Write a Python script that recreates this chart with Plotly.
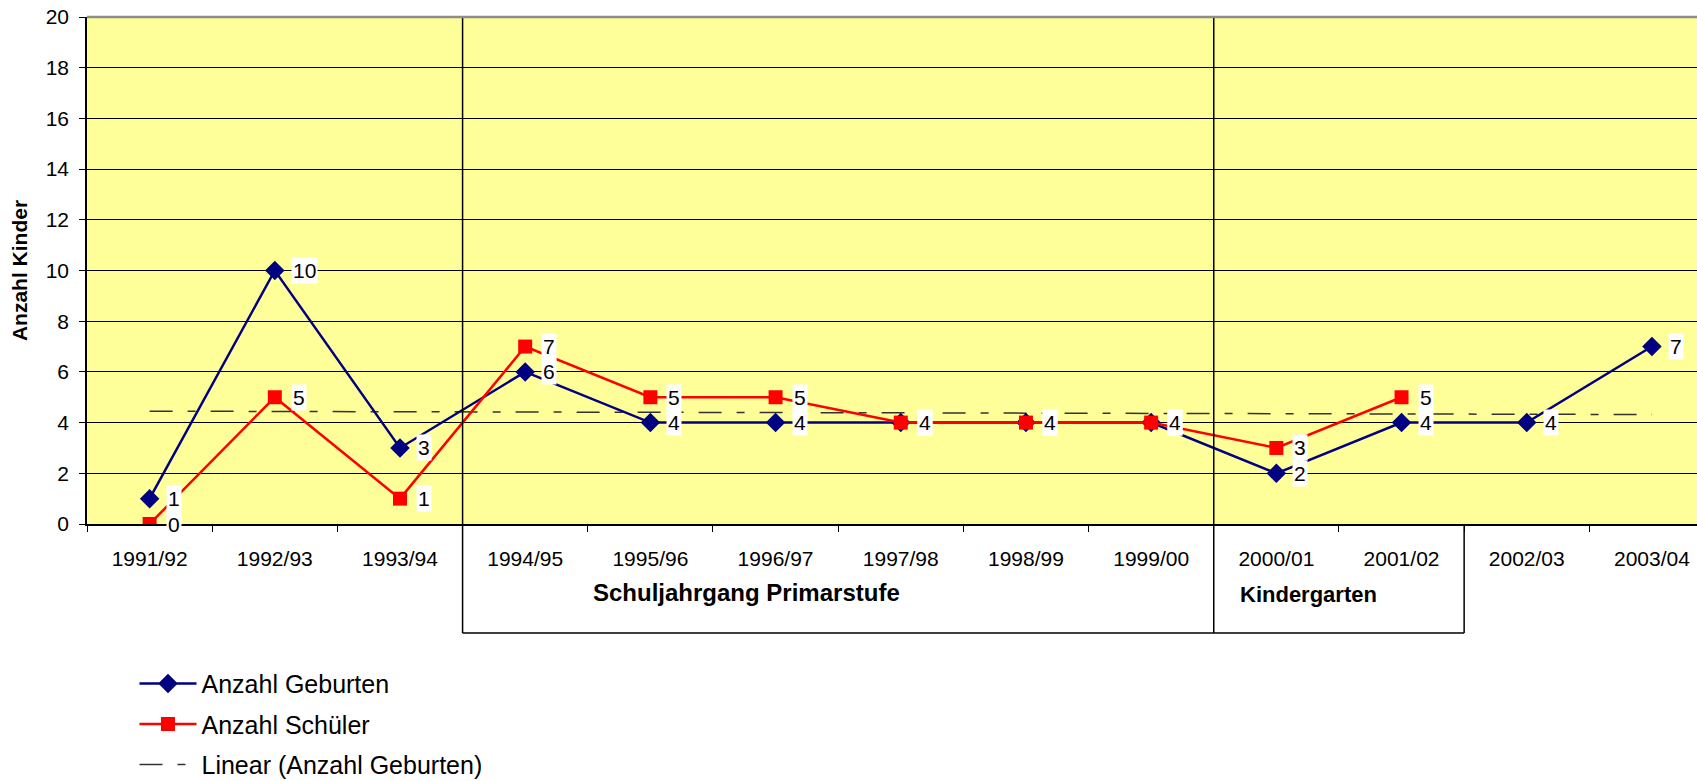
import numpy as np
import plotly.graph_objects as go

# ---- data ----
categories = ["1991/92", "1992/93", "1993/94", "1994/95", "1995/96", "1996/97", "1997/98",
              "1998/99", "1999/00", "2000/01", "2001/02", "2002/03", "2003/04"]
geburten = [1, 10, 3, 6, 4, 4, 4, 4, 4, 2, 4, 4, 7]
schueler = [0, 5, 1, 7, 5, 5, 4, 4, 4, 3, 5, None, None]
y_ticks = [0, 2, 4, 6, 8, 10, 12, 14, 16, 18, 20]
group_labels = ["Schuljahrgang Primarstufe", "Kindergarten"]

FONT = "Liberation Sans, Arial, sans-serif"
NAVY = "#000080"
RED = "#FF0000"

# linear trend of births (least squares)
idx = np.arange(len(geburten))
slope, intercept = np.polyfit(idx, np.array(geburten, dtype=float), 1)
trend = [float(intercept + slope * i) for i in idx]

fig = go.Figure()

fig.add_trace(go.Scatter(
    x=categories, y=trend, mode="lines", name="Linear (Anzahl Geburten)",
    line=dict(color="#333333", width=1.5, dash="23px,15px,8px,15px"),
    legendrank=3, legendgroup="c", hoverinfo="skip"))

fig.add_trace(go.Scatter(
    x=categories, y=geburten, mode="lines+markers", name="Anzahl Geburten",
    line=dict(color=NAVY, width=2.5),
    marker=dict(symbol="diamond", size=15, color=NAVY),
    legendrank=1, legendgroup="a"))

fig.add_trace(go.Scatter(
    x=categories, y=schueler, mode="lines+markers", name="Anzahl Schüler",
    line=dict(color=RED, width=2.5),
    marker=dict(symbol="square", size=14, color=RED),
    legendrank=2, legendgroup="b", connectgaps=False))

# data labels
annotations = []
for series in (geburten, schueler):
    for c, v in zip(categories, series):
        if v is None:
            continue
        annotations.append(dict(
            x=c, y=v, xref="x", yref="y", text=str(v), showarrow=False,
            xanchor="left", yanchor="middle", xshift=16,
            bgcolor="white", borderpad=1,
            font=dict(family=FONT, size=21, color="black")))

# group labels under the axis
annotations.append(dict(x=0.4096, y=-0.1345, xref="paper", yref="paper",
                        text="<b>%s</b>" % group_labels[0], showarrow=False,
                        xanchor="center", yanchor="middle",
                        font=dict(family=FONT, size=24, color="black")))
annotations.append(dict(x=0.759, y=-0.140, xref="paper", yref="paper",
                        text="<b>%s</b>" % group_labels[1], showarrow=False,
                        xanchor="center", yanchor="middle",
                        font=dict(family=FONT, size=22, color="black")))

box_bottom = -0.215
line_style = dict(color="black", width=1.5)
shapes = [
    dict(type="line", xref="x", yref="paper", x0=2.5, x1=2.5, y0=1, y1=box_bottom, line=line_style),
    dict(type="line", xref="x", yref="paper", x0=8.5, x1=8.5, y0=1, y1=box_bottom, line=line_style),
    dict(type="line", xref="x", yref="paper", x0=10.5, x1=10.5, y0=0, y1=box_bottom, line=line_style),
    dict(type="line", xref="x", yref="paper", x0=2.5, x1=10.5, y0=box_bottom, y1=box_bottom, line=line_style),
    dict(type="line", xref="paper", yref="paper", x0=0, x1=1, y0=1, y1=1,
         line=dict(color="#8c8c8c", width=2.5)),
]

fig.update_layout(
    width=1697, height=781,
    margin=dict(l=87, r=0, t=17, b=257, autoexpand=False),
    paper_bgcolor="white", plot_bgcolor="#FFFF99",
    font=dict(family=FONT, size=21, color="black"),
    showlegend=True,
    legend=dict(x=0.0295, y=0.154, xref="paper", yref="container",
                xanchor="left", yanchor="top",
                font=dict(family=FONT, size=25, color="black"),
                bgcolor="rgba(0,0,0,0)", itemwidth=57,
                traceorder="grouped", tracegroupgap=5),
    annotations=annotations,
    shapes=shapes,
    hovermode=False,
)

fig.update_xaxes(
    type="category", range=[-0.5, 12.36], automargin=False,
    showline=True, linecolor="black", linewidth=1.5,
    ticks="outside", tickson="boundaries", ticklen=6, tickcolor="black", tickwidth=1.2,
    showgrid=False, ticklabelstandoff=15,
    tickfont=dict(family=FONT, size=21, color="black"))

fig.update_yaxes(
    range=[0, 20], tickvals=y_ticks, automargin=False,
    showline=True, linecolor="black", linewidth=1.5,
    ticks="outside", ticklen=6, tickcolor="black", tickwidth=1.2,
    showgrid=True, gridcolor="black", gridwidth=1, zeroline=False,
    ticklabelstandoff=6,
    tickfont=dict(family=FONT, size=21, color="black"),
    title=dict(text="<b>Anzahl Kinder</b>", standoff=12,
               font=dict(family=FONT, size=21, color="black")))

fig.write_html("out.html", config={"displayModeBar": False},
               post_script="document.body.style.margin='0';")
